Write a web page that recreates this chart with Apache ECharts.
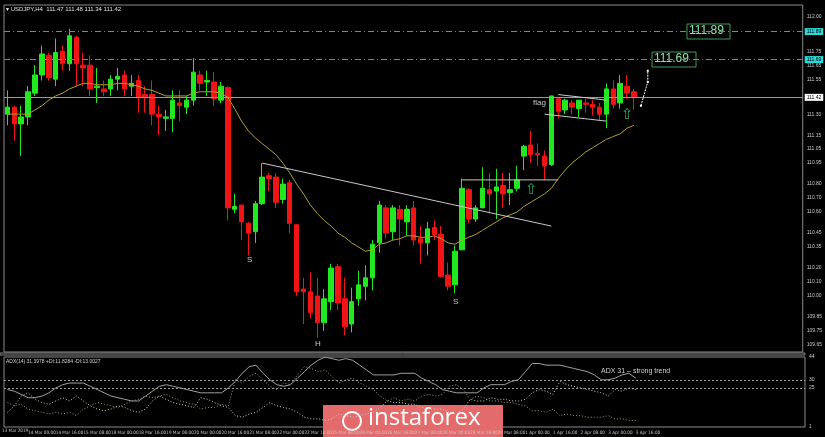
<!DOCTYPE html>
<html><head><meta charset="utf-8">
<script src="https://cdn.jsdelivr.net/npm/echarts@6/dist/echarts.min.js"></script>
<style>html,body{margin:0;padding:0;background:#000}#c{width:825px;height:437px}</style>
</head><body><div id="c"></div>
<script>
const openP=[111.30,111.35,111.23,111.28,111.45,111.58,111.72,111.55,111.75,111.66,111.85,111.65,111.65,111.49,111.48,111.48,111.55,111.58,111.50,111.54,111.44,111.44,111.30,111.27,111.27,111.38,111.35,111.40,111.58,111.53,111.53,111.40,111.49,110.62,110.65,110.52,110.46,110.66,110.86,110.85,110.69,110.81,110.51,110.05,110.03,110.00,109.81,109.96,110.21,109.98,109.80,109.98,110.07,110.13,110.38,110.63,110.46,110.62,110.53,110.63,110.41,110.38,110.49,110.44,110.15,110.08,110.33,110.76,110.55,110.63,110.76,110.75,110.79,110.74,110.77,111.00,111.08,111.02,111.00,110.94,111.41,111.33,111.38,111.34,111.38,111.37,111.35,111.30,111.48,111.38,111.50,111.46];
const closeP=[111.35,111.23,111.28,111.46,111.58,111.73,111.56,111.74,111.66,111.86,111.66,111.63,111.48,111.50,111.46,111.55,111.57,111.48,111.52,111.42,111.42,111.30,111.28,111.28,111.40,111.36,111.40,111.60,111.52,111.54,111.41,111.50,110.63,110.64,110.53,110.45,110.66,110.85,110.84,110.67,110.80,110.52,110.03,110.03,109.88,109.81,109.98,110.20,109.95,109.78,109.96,110.08,110.13,110.37,110.65,110.45,110.63,110.55,110.62,110.40,110.38,110.48,110.44,110.14,110.07,110.32,110.77,110.55,110.63,110.77,110.73,110.78,110.73,110.76,110.83,111.07,111.01,111.01,110.93,111.43,111.32,111.40,111.35,111.40,111.37,111.35,111.30,111.48,111.37,111.52,111.45,111.42];
const lowP=[111.22,111.11,111.00,111.22,111.43,111.54,111.54,111.50,111.61,111.61,111.50,111.50,111.43,111.38,111.43,111.43,111.47,111.43,111.43,111.31,111.31,111.22,111.15,111.18,111.17,111.25,111.30,111.36,111.47,111.43,111.36,111.38,110.54,110.59,110.40,110.29,110.38,110.65,110.75,110.63,110.66,110.45,110.00,109.80,109.84,109.70,109.75,109.90,109.90,109.72,109.74,109.93,109.97,110.04,110.31,110.41,110.40,110.36,110.43,110.36,110.23,110.29,110.40,110.13,110.04,110.02,110.33,110.52,110.53,110.63,110.59,110.55,110.63,110.65,110.75,110.90,110.95,110.93,110.83,110.93,111.27,111.30,111.30,111.28,111.31,111.29,111.25,111.20,111.34,111.34,111.41,111.33];
const highP=[111.47,111.36,111.36,111.50,111.65,111.79,111.74,111.84,111.79,111.91,111.86,111.74,111.72,111.63,111.54,111.58,111.63,111.61,111.58,111.58,111.50,111.54,111.36,111.33,111.47,111.47,111.43,111.70,111.61,111.61,111.60,111.53,111.50,110.73,110.65,110.53,110.68,110.95,110.88,110.88,110.84,110.83,110.51,110.13,110.17,110.13,110.05,110.23,110.23,110.13,110.06,110.18,110.22,110.40,110.68,110.65,110.65,110.65,110.65,110.68,110.50,110.53,110.54,110.50,110.24,110.36,110.84,110.77,110.65,110.92,110.88,110.91,110.88,110.88,110.93,111.08,111.18,111.09,111.04,111.43,111.42,111.41,111.40,111.40,111.41,111.40,111.38,111.52,111.54,111.58,111.58,111.48];
const maP=[111.30,111.30,111.30,111.30,111.33,111.36,111.40,111.43,111.45,111.48,111.50,111.52,111.52,111.51,111.51,111.51,111.52,111.52,111.51,111.50,111.48,111.47,111.45,111.43,111.43,111.43,111.43,111.45,111.46,111.46,111.46,111.45,111.42,111.34,111.25,111.18,111.13,111.09,111.05,111.01,110.95,110.88,110.80,110.73,110.65,110.59,110.54,110.50,110.45,110.42,110.38,110.35,110.32,110.33,110.37,110.38,110.40,110.41,110.43,110.43,110.42,110.42,110.43,110.41,110.38,110.37,110.40,110.42,110.44,110.47,110.50,110.53,110.56,110.58,110.60,110.64,110.67,110.70,110.73,110.77,110.84,110.90,110.95,110.99,111.03,111.06,111.09,111.12,111.14,111.16,111.20,111.22];
const adx=[24,23,21,19,19,20,22,25,27,28,28,28,26,24,22,20,19,18,17,17,20,23,26,27,26,25,24,23,22,22,22,22,25,29,34,38,39,34,30,27,26,27,31,35,39,42,44,43,42,43,42,39,36,33,33,33,33,34,34,34,31,29,27,24,23,22,22,22,22,25,27,27,27,29,30,35,40,40,39,39,39,38,37,36,35,33,30,30,31,33,34,31];
const diPlus=[10,14,20,22,18,16,15,17,19,17,20,17,14,12,11,12,14,13,11,10,12,17,20,18,16,15,14,13,19,18,16,14,13,8,7,9,10,13,16,14,13,12,10,7,6,6,5,6,9,8,7,8,9,10,13,17,16,16,15,15,13,12,12,12,10,9,12,18,17,17,19,18,18,17,17,18,22,24,23,21,29,27,26,25,24,23,22,20,24,23,25,24];
const diMinus=[16,14,15,12,11,10,9,10,9,10,8,12,14,16,15,14,13,15,17,18,20,19,20,21,19,17,16,15,12,13,13,15,14,30,28,32,34,30,26,24,28,27,33,38,37,35,36,32,28,30,31,28,26,24,20,17,19,17,18,17,20,21,20,21,26,27,24,18,20,19,17,17,16,16,15,14,11,11,10,12,8,9,8,8,7,7,7,8,6,6,5,5];
const tickLabels=['14 Mar 00:00','14 Mar 16:00','15 Mar 08:00','18 Mar 00:00','18 Mar 16:00','19 Mar 08:00','20 Mar 00:00','20 Mar 16:00','21 Mar 08:00','22 Mar 00:00','22 Mar 16:00','25 Mar 08:00','26 Mar 00:00','26 Mar 16:00','27 Mar 08:00','28 Mar 00:00','28 Mar 16:00','29 Mar 08:00','1 Apr 00:00','1 Apr 16:00','2 Apr 08:00','3 Apr 00:00','3 Apr 16:00'];
const priceLabels=[112.00,111.75,111.65,111.55,111.30,111.15,111.05,110.95,110.80,110.70,110.60,110.45,110.35,110.20,110.10,110.00,109.85,109.75,109.65];
const adxLevels=[44,30,25,1];
const levels={hi:111.89,mid:111.69,last:111.42};
const neck=[[37,110.95],[79,110.50]];
const resist=[[66,110.83],[79.5,110.83]];
const flagUp=[[79.6,111.44],[87.4,111.40]];
const flagLo=[[78.4,111.30],[86.5,111.25]];
const proj=[[92.4,111.36],[92.8,111.53],[93.3,111.61]];

const N=116;
const cats=[];for(let i=0;i<N;i++)cats.push(String(i));
const lblAt={};tickLabels.forEach((t,k)=>{lblAt[3+4*k]=t;});
const candles=openP.map((o,i)=>[o,closeP[i],lowP[i],highP[i]]);
const txt='#c8c8c8';
const small='4.6px "DejaVu Sans Condensed", "Liberation Sans Narrow", sans-serif';
function seg(data,color,type){return {type:'line',data:data,symbol:'none',silent:true,lineStyle:{color:color,width:1,type:type||'solid'},xAxisIndex:0,yAxisIndex:0,z:5};}
const chart=echarts.init(document.getElementById('c'));
chart.setOption({
 backgroundColor:'#000',animation:false,
 grid:[{left:4,right:20,top:5,height:347,show:true,borderColor:'#8a8a8a',borderWidth:1},
       {left:4,right:20,top:357,height:70,show:true,borderColor:'#8a8a8a',borderWidth:1}],
 xAxis:[{type:'category',data:cats,gridIndex:0,axisLine:{show:false},axisTick:{show:false},axisLabel:{show:false},splitLine:{show:false}},
        {type:'category',data:cats,gridIndex:1,axisLine:{show:false},axisTick:{show:false},
         axisLabel:{interval:0,fontSize:4.6,fontFamily:'DejaVu Sans Condensed',color:txt,align:'left',margin:3,formatter:(v,i)=>lblAt[i]||''},splitLine:{show:false}}],
 yAxis:[{type:'value',gridIndex:0,position:'right',min:109.60,max:112.08,interval:0.05,
         axisLine:{show:false},axisTick:{show:false},splitLine:{show:false},
         axisLabel:{fontSize:5,color:txt,margin:4,formatter:v=>priceLabels.some(p=>Math.abs(p-v)<1e-6)?v.toFixed(2):''}},
        {type:'value',gridIndex:1,position:'right',min:1,max:44,interval:1,
         axisLine:{show:false},axisTick:{show:false},splitLine:{show:false},
         axisLabel:{fontSize:5,color:txt,margin:4,showMaxLabel:true,formatter:v=>adxLevels.includes(v)?String(v):''}}],
 series:[
  {type:'candlestick',data:candles,barWidth:5,xAxisIndex:0,yAxisIndex:0,
   itemStyle:{color:'#22e822',color0:'#f01414',borderColor:'#22e822',borderColor0:'#f01414',borderWidth:1},
   markLine:{symbol:'none',silent:true,data:[
     {yAxis:levels.hi,lineStyle:{color:'#2aa7a7',type:[6,3,1,3],width:1},label:{position:'end',formatter:levels.hi.toFixed(2),fontSize:5,color:'#000',backgroundColor:'#2fd8d8',padding:[1,2],distance:2}},
     {yAxis:levels.mid,lineStyle:{color:'#2aa7a7',type:[6,3,1,3],width:1},label:{position:'end',formatter:levels.mid.toFixed(2),fontSize:5,color:'#000',backgroundColor:'#2fd8d8',padding:[1,2],distance:2}},
     {yAxis:levels.last,lineStyle:{color:'#9a9a9a',type:'solid',width:1},label:{position:'end',formatter:levels.last.toFixed(2),fontSize:5,color:'#000',backgroundColor:'#fff',padding:[1,2],distance:2}}]}},
  {type:'line',data:maP,symbol:'none',xAxisIndex:0,yAxisIndex:0,lineStyle:{color:'#b0a030',width:1},z:4},
  seg(neck,'#c8c8c8'),seg(resist,'#c8c8c8'),seg(flagUp,'#c8c8c8'),seg(flagLo,'#c8c8c8'),
  {type:'line',data:proj,symbol:'rect',symbolSize:2,xAxisIndex:0,yAxisIndex:0,lineStyle:{color:'#fff',width:1,type:[2,1]},itemStyle:{color:'#fff'},z:6},
  {type:'line',data:adx,symbol:'none',xAxisIndex:1,yAxisIndex:1,lineStyle:{color:'#a0a0a0',width:1}},
  {type:'line',data:diPlus,symbol:'none',xAxisIndex:1,yAxisIndex:1,lineStyle:{color:'#d0d0d0',width:1,type:[1,2]}},
  {type:'line',data:diMinus,symbol:'none',xAxisIndex:1,yAxisIndex:1,lineStyle:{color:'#a09a70',width:1,type:[1,2]},
   markLine:{symbol:'none',silent:true,label:{show:false},lineStyle:{color:'#9a9a9a',type:[2,2],width:1},data:[{yAxis:30},{yAxis:25}]}}
 ],
 graphic:[
  {type:'text',left:6,top:6,style:{text:'▾ USDJPY,H4  111.47 111.48 111.34 111.42',fill:'#e0e0e0',font:'6px sans-serif'}},
  {type:'text',left:6,top:359,style:{text:'ADX(14) 31.3978 +DI:11.8284 -DI:13.0027',fill:'#d0d0d0',font:'5px sans-serif'}},
  {type:'text',left:2,top:428,style:{text:'13 Mar 2019',fill:txt,font:small}},
  {type:'rect',shape:{x:0,y:353,width:805,height:2},style:{fill:'#000',stroke:'#8a8a8a',lineWidth:1}},
  {type:'text',left:247,top:256,style:{text:'S',fill:'#c8c8c8',font:'8px sans-serif'}},
  {type:'text',left:315,top:340,style:{text:'H',fill:'#c8c8c8',font:'8px sans-serif'}},
  {type:'text',left:453,top:298,style:{text:'S',fill:'#c8c8c8',font:'8px sans-serif'}},
  {type:'text',left:533,top:99,style:{text:'flag',fill:'#c8c8c8',font:'8px sans-serif'}},
  {type:'text',z:100,x:525,y:183,style:{text:'⇧',fill:'#2fa860',font:'15px "DejaVu Sans"'}},
  {type:'text',z:100,x:621,y:108,style:{text:'⇧',fill:'#2fa860',font:'15px "DejaVu Sans"'}},
  {type:'rect',shape:{x:687,y:24,width:43,height:15},style:{fill:'#000',stroke:'#3a9a5a',lineWidth:1}},
  {type:'text',left:689,top:25,style:{text:'111.89',fill:'#8fe0a8',font:'12px sans-serif'}},
  {type:'rect',shape:{x:652,y:52,width:44,height:15},style:{fill:'#000',stroke:'#3a9a5a',lineWidth:1}},
  {type:'text',left:654,top:53,style:{text:'111.69',fill:'#8fe0a8',font:'12px sans-serif'}},
  {type:'text',left:601,top:368,style:{text:'ADX 31 – strong trend',fill:'#d0d0d0',font:'7px sans-serif'}},
  {type:'rect',shape:{x:323,y:405,width:180,height:32},style:{fill:'#e36b6b'}},
  {type:'text',left:368,top:406,style:{text:'instaforex',fill:'#fff',font:'24px "Open Sans"'}},
  {type:'circle',shape:{cx:352,cy:421,r:9},style:{fill:'none',stroke:'#fff',lineWidth:2}}
 ]
});
</script></body></html>
